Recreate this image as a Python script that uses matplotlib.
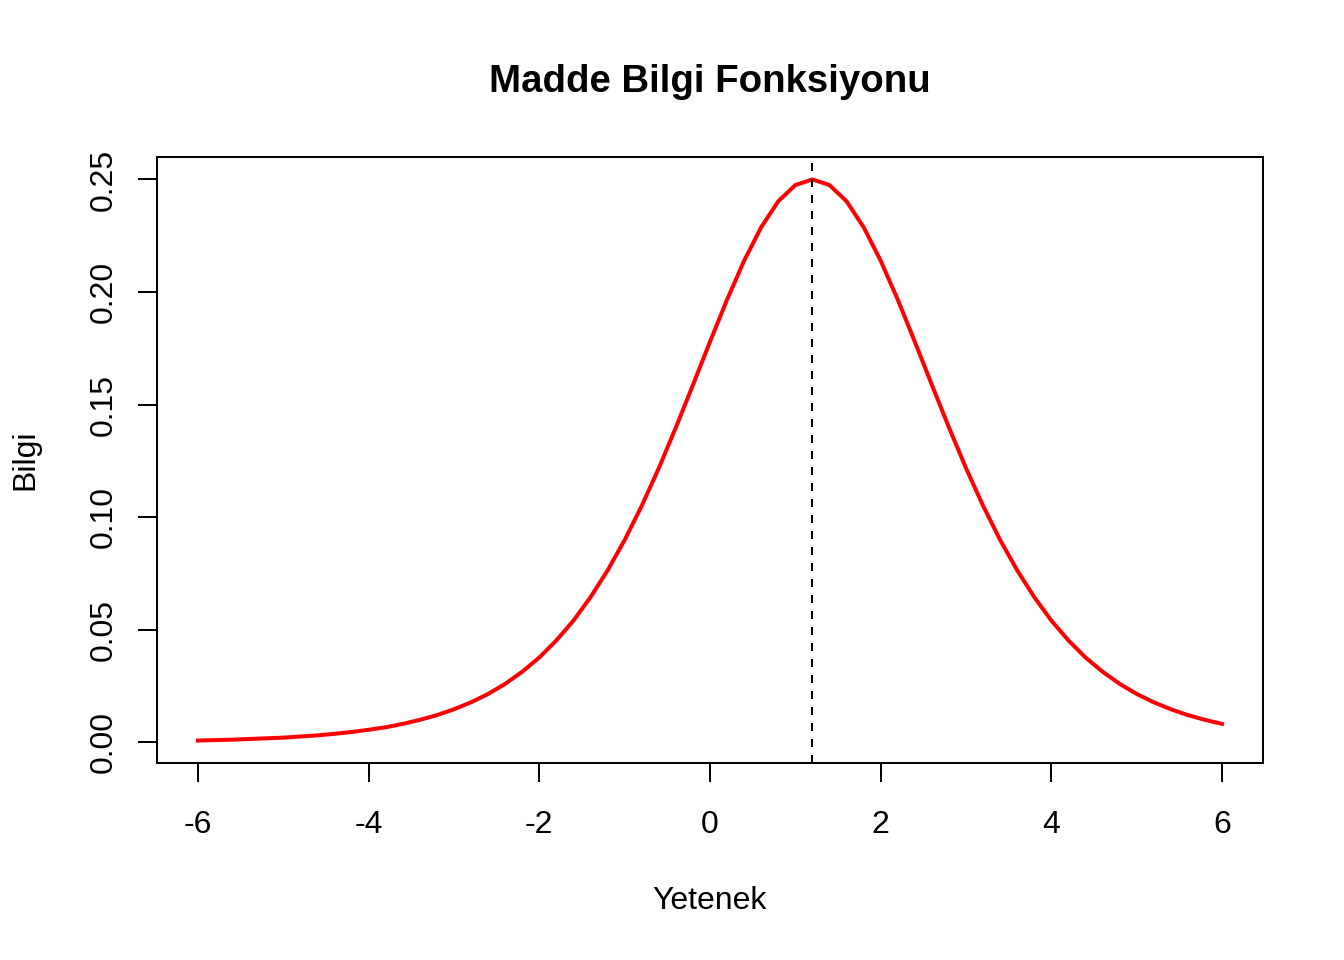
import numpy as np
import matplotlib
matplotlib.use('Agg')
import matplotlib.pyplot as plt

plt.rcParams['font.family'] = ['Liberation Sans', 'DejaVu Sans']

# Yetenek (theta) ve Bilgi degerleri
yetenek = np.round(np.arange(-6.0, 6.01, 0.2), 1)
bilgi = [0.0007, 0.0009, 0.0011, 0.0014, 0.0017, 0.0020, 0.0025, 0.0030, 0.0037, 0.0045,
         0.0055, 0.0066, 0.0081, 0.0099, 0.0120, 0.0146, 0.0177, 0.0214, 0.0259, 0.0313,
         0.0376, 0.0452, 0.0540, 0.0644, 0.0763, 0.0898, 0.1050, 0.1217, 0.1398, 0.1587,
         0.1779, 0.1966, 0.2139, 0.2288, 0.2403, 0.2475, 0.2500,
         0.2475, 0.2403, 0.2288, 0.2139, 0.1966, 0.1779, 0.1587, 0.1398, 0.1217, 0.1050,
         0.0898, 0.0763, 0.0644, 0.0540, 0.0452, 0.0376, 0.0313, 0.0259, 0.0214, 0.0177,
         0.0146, 0.0120, 0.0099, 0.0081]
b_param = 1.2
x_ticks = [-6, -4, -2, 0, 2, 4, 6]
y_ticks = [0.00, 0.05, 0.10, 0.15, 0.20, 0.25]

fig = plt.figure(figsize=(7, 5), dpi=192)
ax = fig.add_axes([157/1344, 1 - 763/960, (1263-157)/1344, (763-157)/960])

ax.plot(yetenek, bilgi, color='red', lw=1.5)
ax.axvline(b_param, color='black', lw=0.75, linestyle=(0, (4, 4)))

# R tarzi %4 genisletme
xr = max(yetenek) - min(yetenek)
ax.set_xlim(min(yetenek) - 0.04*xr, max(yetenek) + 0.04*xr)
yr = max(bilgi) - min(bilgi)
ax.set_ylim(min(bilgi) - 0.04*yr, max(bilgi) + 0.04*yr)

ax.set_xticks(x_ticks)
ax.set_xticklabels([str(v) for v in x_ticks])
ax.set_yticks(y_ticks)
ax.set_yticklabels([f"{v:.2f}" for v in y_ticks], rotation=90, va='center')
ax.tick_params(direction='out', length=7.2, width=0.75, labelsize=12)
ax.tick_params(axis='x', pad=10.5)
ax.tick_params(axis='y', pad=7)
for s in ax.spines.values():
    s.set_linewidth(0.75)

fig.text(710/1344, 1 - 82/960, "Madde Bilgi Fonksiyonu", fontsize=14.4, fontweight='bold',
         ha='center', va='center')
fig.text(710/1344, 1 - 901/960, "Yetenek", fontsize=12, ha='center', va='center')
fig.text(25/1344, 1 - 460/960, "Bilgi", fontsize=12, ha='center', va='center', rotation=90)

fig.savefig("out.png", dpi=192)
